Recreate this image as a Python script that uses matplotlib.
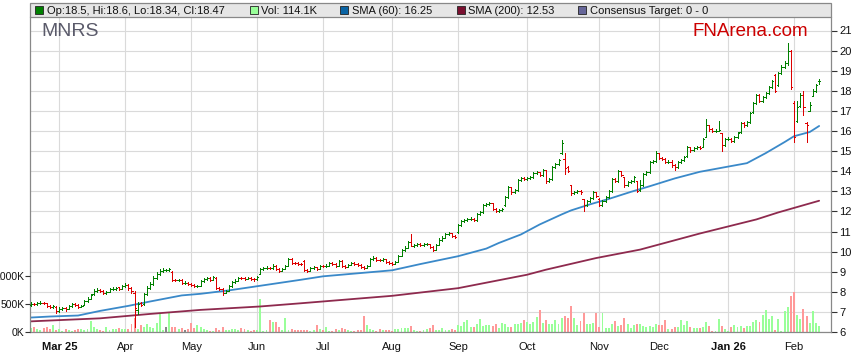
import matplotlib
matplotlib.use('Agg')
import matplotlib.pyplot as plt
from matplotlib.patches import Rectangle
from matplotlib.collections import LineCollection
import numpy as np

plt.rcParams['font.family'] = ['Liberation Sans', 'DejaVu Sans']

# ---------------- data ----------------
opens = [7.35,7.40,7.38,7.42,7.45,7.42,7.30,7.25,7.25,7.05,
         7.15,7.20,7.15,7.30,7.38,7.35,7.25,7.35,7.55,7.65,
         7.88,8.05,8.10,8.05,7.95,8.00,8.12,8.15,8.22,8.15,
         8.30,8.35,8.20,7.95,7.10,7.45,7.40,7.90,8.20,8.40,
         8.70,8.90,9.05,9.10,9.10,9.00,8.60,8.58,8.60,8.45,
         8.45,8.40,8.35,8.27,8.30,8.55,8.62,8.68,8.60,8.70,
         8.20,8.15,7.95,8.05,8.30,8.50,8.55,8.70,8.68,8.66,
         8.68,8.65,8.62,8.90,9.15,9.18,9.20,9.18,9.30,9.15,
         9.05,9.15,9.30,9.65,9.45,9.42,9.40,9.55,9.10,9.05,
         9.20,9.22,9.15,9.30,9.28,9.30,9.45,9.40,9.30,9.55,
         9.30,9.25,9.35,9.45,9.40,9.32,9.25,9.20,9.30,9.65,
         9.70,9.60,9.58,9.62,9.50,9.45,9.40,9.50,9.80,10.10,
         10.20,10.50,10.30,10.35,10.38,10.35,10.36,10.38,10.25,10.10,
         10.35,10.60,10.70,10.90,10.92,10.80,11.00,11.30,11.50,11.55,
         11.60,11.62,11.55,11.85,11.95,12.30,12.35,12.40,12.10,12.00,
         12.05,12.30,12.70,13.20,12.95,13.05,13.55,13.65,13.60,13.65,
         13.70,13.90,13.95,13.80,14.05,13.50,13.60,14.20,14.35,14.90,
         14.60,14.20,13.30,12.90,12.95,13.00,12.60,12.30,12.50,12.65,
         12.95,12.60,12.30,12.50,12.70,13.00,13.60,13.50,14.00,13.70,
         13.30,13.45,13.50,13.50,13.05,13.30,13.85,13.95,14.45,14.50,
         14.90,14.65,14.60,14.45,14.48,14.30,14.20,14.45,14.55,14.75,
         15.20,15.05,15.15,15.20,15.20,15.70,16.30,16.10,16.00,16.02,
         15.90,15.30,15.60,15.62,15.50,15.70,15.95,16.40,16.30,16.45,
         16.95,17.40,17.80,17.50,17.70,17.90,18.20,18.80,18.30,18.90,
         19.20,19.40,20.00,17.40,16.50,17.25,17.80,16.40,17.00,17.75,
         18.00,18.50]

highs = [7.48,7.45,7.48,7.52,7.50,7.45,7.33,7.35,7.28,7.22,
         7.25,7.24,7.35,7.42,7.43,7.38,7.36,7.60,7.72,7.90,
         8.12,8.18,8.14,8.08,8.06,8.18,8.22,8.26,8.25,8.36,
         8.42,8.38,8.24,8.05,7.50,7.50,7.95,8.28,8.48,8.78,
         8.98,9.12,9.18,9.15,9.20,9.05,8.66,8.66,8.63,8.52,
         8.50,8.45,8.38,8.36,8.60,8.68,8.75,8.72,8.78,8.72,
         8.25,8.18,8.10,8.35,8.55,8.62,8.76,8.74,8.72,8.74,
         8.72,8.70,8.80,9.20,9.24,9.26,9.25,9.36,9.33,9.18,
         9.20,9.35,9.70,9.66,9.50,9.47,9.45,9.60,9.15,9.25,
         9.28,9.25,9.35,9.34,9.36,9.50,9.48,9.43,9.60,9.56,
         9.34,9.40,9.50,9.48,9.43,9.36,9.30,9.35,9.70,9.76,
         9.72,9.65,9.68,9.64,9.54,9.48,9.55,9.85,10.15,10.28,
         10.55,10.90,10.40,10.44,10.42,10.42,10.44,10.40,10.28,10.40,
         10.66,10.76,10.95,10.98,10.95,10.85,11.36,11.58,11.62,11.68,
         11.70,11.66,11.90,12.02,12.36,12.42,12.48,12.44,12.15,12.12,
         12.18,12.75,13.25,13.22,13.12,13.62,13.72,13.70,13.72,13.76,
         13.96,14.02,13.98,14.12,14.08,13.68,14.25,14.42,14.62,15.55,
         14.90,14.25,13.30,13.02,13.08,13.05,12.60,12.56,12.72,13.00,
         12.98,12.65,12.56,12.76,13.06,13.66,13.65,14.06,14.02,13.72,
         13.50,13.56,13.76,13.52,13.55,13.90,14.00,14.50,14.56,15.00,
         14.92,14.70,14.64,14.54,14.55,14.34,14.50,14.62,14.76,15.26,
         15.22,15.22,15.26,15.24,15.66,16.60,16.32,16.14,16.08,16.50,
         15.92,15.66,15.68,15.66,15.76,15.96,16.46,16.45,16.52,16.96,
         17.46,17.86,17.82,17.76,17.96,18.26,18.56,18.85,18.96,19.26,
         19.48,20.40,20.05,17.50,17.50,17.88,18.00,16.45,17.45,18.10,
         18.35,18.60]

lows = [7.30,7.33,7.35,7.38,7.38,7.25,7.20,7.20,6.95,7.00,
        7.10,7.05,7.12,7.26,7.30,7.20,7.22,7.32,7.50,7.62,
        7.85,8.00,7.98,7.88,7.90,7.97,8.08,8.10,8.08,8.12,
        8.26,8.10,7.95,6.25,6.90,7.28,7.35,7.85,8.15,8.36,
        8.65,8.86,9.00,9.04,9.05,8.55,8.52,8.53,8.40,8.40,
        8.35,8.30,8.22,8.22,8.28,8.50,8.58,8.55,8.58,8.15,
        8.10,7.85,7.92,8.02,8.26,8.46,8.52,8.62,8.60,8.62,
        8.60,8.56,8.60,8.88,9.10,9.14,9.12,9.15,9.10,9.00,
        9.02,9.12,9.28,9.40,9.36,9.35,9.32,9.02,9.00,9.02,
        9.15,9.10,9.12,9.22,9.24,9.28,9.35,9.25,9.28,9.25,
        9.20,9.22,9.32,9.35,9.28,9.20,9.15,9.18,9.28,9.60,
        9.55,9.52,9.54,9.45,9.40,9.34,9.38,9.48,9.78,10.05,
        10.18,10.28,10.25,10.30,10.30,10.30,10.32,10.20,10.05,10.08,
        10.32,10.55,10.66,10.85,10.75,10.70,10.95,11.26,11.45,11.50,
        11.55,11.50,11.52,11.80,11.92,12.25,12.30,12.05,11.95,11.96,
        12.00,12.25,12.66,12.88,12.90,13.02,13.50,13.55,13.56,13.60,
        13.66,13.85,13.74,13.76,13.40,13.45,13.56,14.15,14.30,14.85,
        13.85,13.95,12.80,12.85,12.90,12.88,12.00,12.26,12.45,12.60,
        12.70,12.25,12.26,12.45,12.66,12.96,13.45,13.46,13.74,13.20,
        13.25,13.40,13.45,12.95,13.00,13.26,13.80,13.92,14.40,14.46,
        14.60,14.55,14.40,14.40,14.22,14.05,14.18,14.40,14.50,14.72,
        14.98,15.00,15.10,15.08,15.18,15.68,16.02,15.96,15.96,15.98,
        15.00,15.26,15.55,15.44,15.45,15.65,15.92,16.22,16.26,16.42,
        16.92,17.36,17.42,17.46,17.66,17.86,18.16,17.95,18.26,18.86,
        19.15,19.30,18.10,15.45,16.45,17.20,16.80,15.45,16.98,17.72,
        17.95,18.34]

closes = [7.40,7.38,7.42,7.45,7.43,7.30,7.25,7.28,7.02,7.15,
          7.20,7.12,7.30,7.38,7.35,7.25,7.30,7.55,7.65,7.85,
          8.05,8.10,8.05,7.95,8.00,8.12,8.15,8.20,8.15,8.30,
          8.35,8.20,8.02,7.20,7.40,7.35,7.90,8.20,8.40,8.70,
          8.90,9.05,9.10,9.10,9.12,8.60,8.58,8.60,8.45,8.45,
          8.40,8.35,8.27,8.30,8.55,8.62,8.68,8.60,8.72,8.20,
          8.15,7.95,8.05,8.30,8.50,8.55,8.70,8.68,8.66,8.68,
          8.65,8.62,8.75,9.15,9.18,9.20,9.18,9.30,9.15,9.05,
          9.15,9.30,9.65,9.45,9.42,9.40,9.38,9.10,9.05,9.20,
          9.22,9.15,9.30,9.28,9.30,9.45,9.40,9.30,9.55,9.30,
          9.25,9.35,9.45,9.40,9.32,9.25,9.20,9.30,9.65,9.70,
          9.60,9.58,9.62,9.50,9.45,9.40,9.50,9.80,10.10,10.20,
          10.50,10.30,10.35,10.38,10.35,10.36,10.38,10.25,10.10,10.35,
          10.60,10.70,10.90,10.92,10.80,10.75,11.30,11.50,11.55,11.60,
          11.62,11.55,11.85,11.95,12.30,12.35,12.40,12.10,12.00,12.05,
          12.10,12.70,13.20,12.95,13.05,13.55,13.65,13.60,13.65,13.70,
          13.90,13.95,13.80,14.05,13.50,13.60,14.20,14.35,14.55,15.40,
          14.15,14.00,12.90,12.95,13.00,12.95,12.30,12.50,12.65,12.95,
          12.75,12.30,12.50,12.70,13.00,13.60,13.50,14.00,13.80,13.30,
          13.45,13.50,13.70,13.00,13.30,13.85,13.95,14.45,14.50,14.90,
          14.65,14.60,14.45,14.48,14.30,14.20,14.45,14.55,14.70,15.20,
          15.05,15.15,15.20,15.15,15.60,16.30,16.10,16.00,16.02,16.05,
          15.30,15.60,15.62,15.50,15.70,15.90,16.40,16.30,16.45,16.90,
          17.40,17.80,17.50,17.70,17.90,18.20,18.50,18.00,18.90,19.20,
          19.40,20.00,18.20,15.70,17.20,17.80,17.20,16.30,17.30,18.00,
          18.30,18.47]

volumes_k = [66,84,54,36,77,84,54,125,36,48,
             18,54,36,23,36,48,54,36,54,196,
             84,59,36,23,95,36,54,54,77,54,
             54,54,143,245,48,125,95,143,95,66,
             155,334,36,89,334,95,84,54,71,36,
             54,155,77,125,84,54,36,18,18,77,
             36,95,36,36,48,59,36,77,48,36,
             23,36,36,584,18,36,214,179,173,95,
             36,245,36,48,36,36,36,36,36,23,
             36,125,48,36,95,23,18,54,36,77,
             54,36,23,18,36,36,286,125,54,36,
             23,48,36,36,36,23,54,54,66,77,
             77,107,36,23,23,36,54,71,125,36,
             36,66,36,36,54,36,125,107,184,214,
             84,84,143,227,107,125,125,107,143,77,
             155,143,84,84,143,143,155,214,184,143,
             184,268,393,166,214,143,143,214,143,245,
             286,245,464,245,125,202,345,143,143,166,
             345,89,339,77,77,143,202,113,125,250,
             143,77,125,143,143,107,95,107,95,143,
             125,125,214,48,59,84,84,214,125,202,
             89,77,77,77,95,184,107,18,18,232,
             107,48,18,84,125,84,107,66,107,107,
             179,214,184,304,393,232,286,36,232,18,
             375,446,643,714,304,232,411,286,166,375,
             155,114]

sma60_idx = [0, 6, 15, 22, 31, 38, 48, 54, 63, 73, 86, 93, 115, 124, 136, 145, 149,
             156, 162, 169, 172, 178, 184, 191, 197, 205, 213, 221, 228, 234, 240,
             243, 248, 251]
sma60 = [6.72, 6.77, 6.82, 7.05, 7.30, 7.52, 7.82, 7.90, 8.07, 8.30, 8.60, 8.77, 9.07,
         9.38, 9.77, 10.15, 10.43, 10.85, 11.35, 11.85, 12.05, 12.35, 12.62, 12.97,
         13.25, 13.64, 13.97, 14.20, 14.40, 14.90, 15.45, 15.74, 15.95, 16.25]

sma200_idx = [0, 22, 38, 54, 73, 86, 115, 136, 158, 164, 180, 194, 213, 231, 238, 251]
sma200 = [6.53, 6.68, 6.90, 7.10, 7.27, 7.43, 7.80, 8.18, 8.85, 9.10, 9.68, 10.10,
          10.90, 11.60, 11.95, 12.53]

month_pos = [9, 30, 51, 72, 93, 115, 136, 158, 181, 200, 222, 243]
month_labels = ['Mar 25', 'Apr', 'May', 'Jun', 'Jul', 'Aug', 'Sep', 'Oct', 'Nov',
                'Dec', 'Jan 26', 'Feb']
year_labels = ['Mar 25', 'Jan 26']

price_ticks = list(range(6, 22))
vol_ticks = [0, 500, 1000]
vol_tick_labels = ['0K', '500K', '1000K']

legend_items = [
    ('#008000', 'Op:18.5, Hi:18.6, Lo:18.34, Cl:18.47'),
    ('#99ff99', 'Vol: 114.1K'),
    ('#0a64a4', 'SMA (60): 16.25'),
    ('#7a1030', 'SMA (200): 12.53'),
    ('#666699', 'Consensus Target: 0 - 0'),
]

# ---------------- layout ----------------
W, H = 859, 363
fig = plt.figure(figsize=(W / 100, H / 100), dpi=100)
fig.patch.set_facecolor('white')

def fx(px):
    return px / W

def fy(py):
    return 1 - py / H

L, R, T, B = 30, 831, 17, 332
ax = fig.add_axes([fx(L), fy(B), (R - L) / W, (B - T) / H])
axv = ax.twinx()

px_per_unit = 20.1
px_per_bar = 3.14
ymax = 6 + (B - T) / px_per_unit
ax.set_ylim(6, ymax)
axv.set_ylim(0, (B - T) * 17.857)
ax.set_xlim((L - 31) / px_per_bar, (R - 31) / px_per_bar)

n = len(closes)
idx = np.arange(n)
o = np.array(opens); h = np.array(highs); lo = np.array(lows); c = np.array(closes)
prev = np.concatenate([[o[0]], c[:-1]])

GREEN, RED = '#008000', '#dd0000'
bar_cols = [GREEN if c[i] >= prev[i] else RED for i in range(n)]
vol_cols = []
for i in range(n):
    if c[i] > prev[i]:
        vol_cols.append('#99ff99')
    elif c[i] < prev[i]:
        vol_cols.append('#ff9999')
    else:
        vol_cols.append('#888888')

# grid
ax.set_yticks(price_ticks)
ax.set_xticks(month_pos)
ax.set_xticklabels(month_labels)
ax.grid(True, color='#dadada', lw=0.8, zorder=0)
ax.set_axisbelow(True)

# volume bars (on the price axes, scaled by the volume axis)
ax.bar(idx, volumes_k, width=0.62, bottom=0, color=vol_cols, linewidth=0,
       antialiased=False, transform=axv.transData, zorder=1)

# SMAs
ax.plot(sma200_idx, sma200, color='#8e2a4e', lw=1.3, zorder=2, solid_capstyle='round')
ax.plot(sma60_idx, sma60, color='#3a89c9', lw=1.3, zorder=2, solid_capstyle='round')

# OHLC bars
segs, cols = [], []
tk = 0.42
for i in range(n):
    segs.append([(i, lo[i]), (i, h[i])]); cols.append(bar_cols[i])
    segs.append([(i - tk, o[i]), (i, o[i])]); cols.append(bar_cols[i])
    segs.append([(i, c[i]), (i + tk, c[i])]); cols.append(bar_cols[i])
lc = LineCollection(segs, colors=cols, linewidths=0.6, antialiaseds=False, zorder=3)
ax.add_collection(lc)

ax.set_ylim(6, ymax)
ax.set_xlim((L - 31) / px_per_bar, (R - 31) / px_per_bar)

# axes styling
ax.spines['top'].set_visible(False)
for s in ['left', 'right', 'bottom']:
    ax.spines[s].set_color('#888888')
    ax.spines[s].set_linewidth(0.9)
for s in axv.spines.values():
    s.set_visible(False)

ax.yaxis.set_ticks_position('right')
ax.tick_params(axis='y', direction='out', length=4, width=0.8, color='#333333',
               labelsize=8, pad=2, labelcolor='#111111')
ax.tick_params(axis='x', length=0, labelsize=8, pad=7, labelcolor='#111111')
for lab in ax.get_xticklabels():
    if lab.get_text() in year_labels:
        lab.set_fontweight('bold')

axv.yaxis.set_ticks_position('left')
axv.set_yticks(vol_ticks)
axv.set_yticklabels(vol_tick_labels)
axv.tick_params(axis='y', direction='out', length=3.5, width=0.8, color='#333333',
                labelsize=7.5, pad=0.5, labelcolor='#111111')

# legend band
fig.add_artist(Rectangle((fx(L), fy(T)), (R - L) / W, (T - 3) / H,
                         transform=fig.transFigure, facecolor='#e6e6e6',
                         edgecolor='#888888', lw=0.9, zorder=1))
sq_x = [35, 250, 340, 457, 578]
tx_x = [47, 261, 352, 468, 590]
for (col, txt), sx, tx in zip(legend_items, sq_x, tx_x):
    fig.add_artist(Rectangle((fx(sx), fy(14)), 8 / W, 8 / H, transform=fig.transFigure,
                             facecolor=col, edgecolor='#222222', lw=0.6, zorder=2))
    fig.text(fx(tx), fy(10.5), txt, fontsize=8, color='#111111', va='center', ha='left',
             zorder=3)

fig.text(fx(41), fy(31.5), 'MNRS', fontsize=14, color='#5a5a6a', va='center', ha='left',
         zorder=5)
fig.text(fx(692), fy(31.5), 'FNArena.com', fontsize=13.5, color='#cc0000', va='center',
         ha='left', zorder=5)

fig.savefig('out.png', dpi=100, facecolor='white')
